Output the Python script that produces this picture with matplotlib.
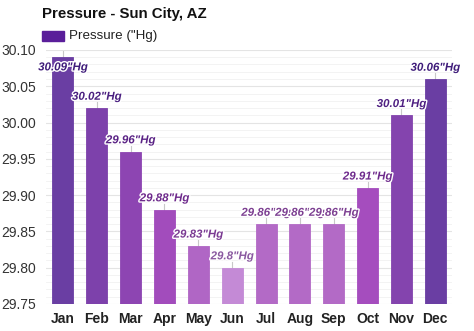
import matplotlib.pyplot as plt
import matplotlib.patheffects as pe
from matplotlib.patches import Rectangle
from matplotlib.ticker import MultipleLocator

plt.rcParams['font.family'] = ['Liberation Sans', 'DejaVu Sans']

months = ['Jan', 'Feb', 'Mar', 'Apr', 'May', 'Jun', 'Jul', 'Aug', 'Sep', 'Oct', 'Nov', 'Dec']
pressure = [30.09, 30.02, 29.96, 29.88, 29.83, 29.80, 29.86, 29.86, 29.86, 29.91, 30.01, 30.06]
bar_colors = ['#6a3ea3', '#7d41ab', '#8d45b2', '#a24cbc', '#b066c5', '#c48ad6',
              '#b36ac6', '#b36ac6', '#b36ac6', '#a54dbe', '#8444ae', '#6a3ea3']
label_colors = ['#3f1c7a', '#4a1f80', '#5a2285', '#6e2a8c', '#7a3a92', '#8a5aa0',
                '#7d4092', '#7d4092', '#7d4092', '#6e2a8c', '#4f2082', '#3f1c7a']

ymin, ymax = 29.75, 30.10

fig = plt.figure(figsize=(4.74, 3.31), dpi=100)
ax = fig.add_axes([0.097, 0.082, 0.857, 0.767])

x = range(len(months))
ax.bar(x, [v - ymin for v in pressure], bottom=ymin, width=0.62,
       color=bar_colors, edgecolor=bar_colors, linewidth=0.6, zorder=3)

# value labels with a short stem above each bar
for i, v in enumerate(pressure):
    ax.plot([i, i], [v, v + 0.008], color='#c8c8c8', lw=0.8, zorder=2)
    ly = min(v + 0.0155, 30.076)
    ax.text(i, ly, '{:g}"Hg'.format(v), ha='center', va='center',
            fontsize=8.3, fontweight='bold', fontstyle='italic',
            color=label_colors[i], zorder=5,
            path_effects=[pe.withStroke(linewidth=2, foreground='white')])

ax.set_xlim(-0.5, len(months) - 0.5)
ax.set_ylim(ymin, ymax)
ax.set_xticks(list(x))
ax.set_xticklabels(months, fontsize=10, fontweight='bold', color='#222222')
ax.yaxis.set_major_locator(MultipleLocator(0.05))
ax.yaxis.set_minor_locator(MultipleLocator(0.01))
ax.set_yticklabels(['{:.2f}'.format(t) for t in ax.get_yticks()])
ax.tick_params(axis='y', labelsize=10, labelcolor='#333333', length=0, pad=7)
ax.tick_params(axis='x', length=0, pad=6)
ax.tick_params(axis='y', which='minor', length=0)
ax.grid(axis='y', which='major', color='#e4e4e4', lw=0.8, zorder=0)
ax.grid(axis='y', which='minor', color='#f1f1f1', lw=0.6, zorder=0)
for s in ax.spines.values():
    s.set_visible(False)

fig.text(42 / 474, 1 - 14 / 331, 'Pressure - Sun City, AZ', ha='left', va='center',
         fontsize=10.8, fontweight='bold', color='#111111')
fig.patches.append(Rectangle((42 / 474, 1 - 41 / 331), 22 / 474, 10 / 331,
                             transform=fig.transFigure, color='#5a1e9a'))
fig.text(69 / 474, 1 - 35.5 / 331, 'Pressure ("Hg)', ha='left', va='center',
         fontsize=9.6, color='#222222')

fig.savefig('out.png', dpi=100)
